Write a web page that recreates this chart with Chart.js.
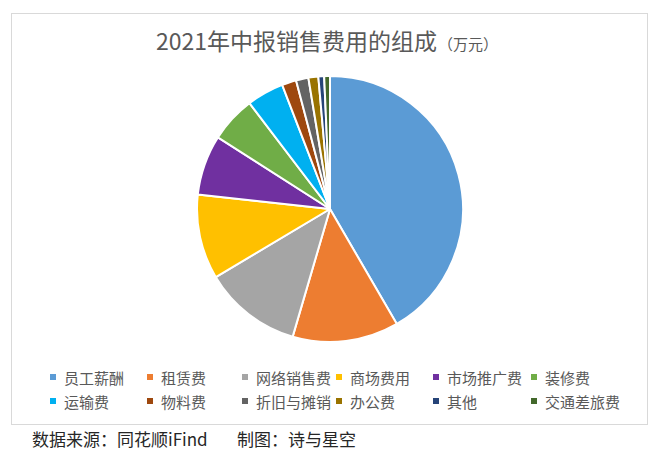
<!DOCTYPE html>
<html>
<head>
<meta charset="utf-8">
<script src="https://cdn.jsdelivr.net/npm/chart.js@4/dist/chart.umd.min.js"></script>
<style>
  body { margin: 0; background: #fff; font-family: "Noto Sans CJK SC", sans-serif; }
  #frame { position: absolute; left: 11px; top: 13px; width: 635px; height: 410px; border: 1px solid #d9d9d9; }
  #title { position: absolute; left: 156px; top: 24px; font-size: 23px; color: #595959; white-space: nowrap; line-height: 32px; }
  #title small { font-size: 15px; margin-left: 1px; }
  #pie-wrap { position: absolute; left: 196px; top: 75px; width: 268px; height: 268px; }
  #legend { position: absolute; left: 50px; top: 366px; display: grid;
    grid-template-columns: 97px 95px 94px 97px 98px 120px; row-gap: 2px; }
  .item { display: flex; align-items: center; font-size: 15px; color: #595959; height: 22px; white-space: nowrap; }
  .box { width: 6px; height: 6px; margin-right: 8px; flex: none; }
  .foot { position: absolute; top: 427px; font-size: 17px; color: #262626; line-height: 24px; white-space: nowrap; }
</style>
</head>
<body>
<div id="frame"></div>
<div id="title">2021年中报销售费用的组成<small>（万元）</small></div>
<div id="pie-wrap"><canvas id="pie"></canvas></div>
<div id="legend"></div>
<div class="foot" style="left:32px">数据来源：同花顺iFind</div>
<div class="foot" style="left:237px">制图：诗与星空</div>

<script>
const categories = ["员工薪酬", "租赁费", "网络销售费", "商场费用", "市场推广费", "装修费",
                    "运输费", "物料费", "折旧与摊销", "办公费", "其他", "交通差旅费"];
// (万元)
const values = [4160, 1290, 1190, 1030, 730, 560, 450, 175, 150, 120, 70, 70];
const colors = ["#5b9bd5", "#ed7d31", "#a5a5a5", "#ffc000", "#7030a0", "#70ad47",
                "#00b0f0", "#9e480e", "#636363", "#997300", "#264478", "#43682b"];

// legend laid out as a grid like the original
const legend = document.getElementById('legend');
categories.forEach((name, i) => {
  const item = document.createElement('div');
  item.className = 'item';
  item.innerHTML = `<span class="box" style="background:${colors[i]}"></span>${name}`;
  legend.appendChild(item);
});

new Chart(document.getElementById('pie'), {
  type: 'pie',
  data: {
    labels: categories,
    datasets: [{
      data: values,
      backgroundColor: colors,
      borderColor: '#fff',
      borderWidth: 2
    }]
  },
  options: {
    responsive: true,
    maintainAspectRatio: false,
    animation: false,
    layout: { padding: 0 },
    plugins: {
      legend: { display: false },
      tooltip: { enabled: false }
    }
  }
});
</script>
</body>
</html>
